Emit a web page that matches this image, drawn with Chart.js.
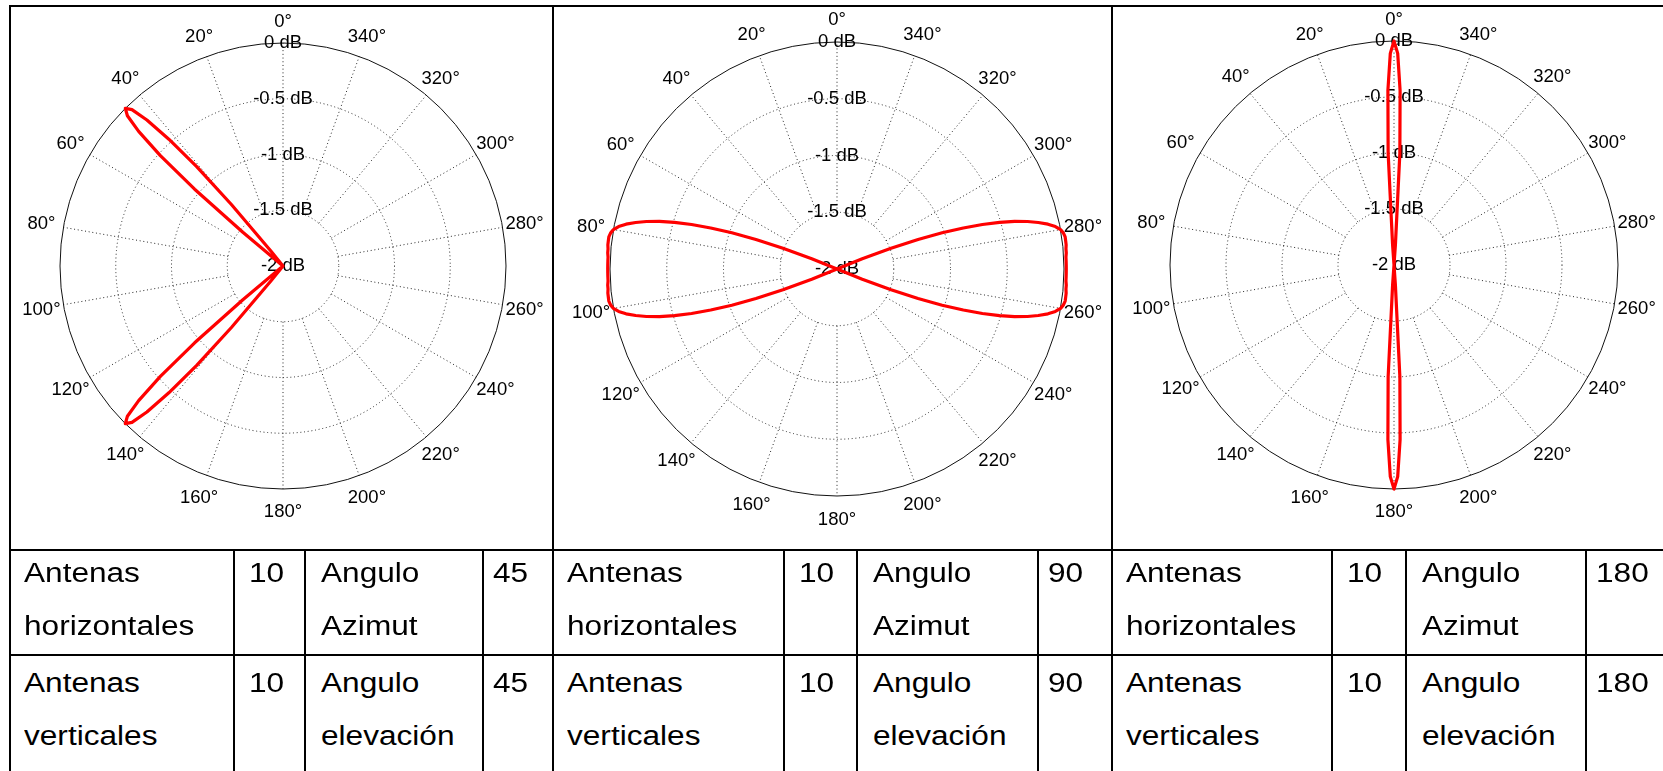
<!DOCTYPE html>
<html>
<head>
<meta charset="utf-8">
<script src="https://cdn.jsdelivr.net/npm/chart.js@4.4.1/dist/chart.umd.min.js"></script>
<style>
  html, body { margin: 0; padding: 0; background: #fff; }
  body { width: 1663px; height: 771px; position: relative; overflow: hidden; font-family: "Liberation Sans", Arial, sans-serif; }
  .ln { position: absolute; background: #000; }
  .cell { position: absolute; font-size: 27px; line-height: 53px; color: #000; white-space: nowrap; transform: scaleX(1.17); transform-origin: 0 0; }
  canvas { position: absolute; }
</style>
</head>
<body>
<canvas id="p1"></canvas>
<canvas id="p2"></canvas>
<canvas id="p3"></canvas>
<script>
// gain in dB, read per degree (angles counted counter-clockwise from the top)
const FLOOR_DB = -2;

// panel 1: steered to 45 deg
const p1LobeAFrom = 38;
const p1LobeA = [-2, -1.83, -1.28, -0.82, -0.47, -0.21, -0.05, 0, -0.06, -0.23, -0.52, -0.95, -1.53, -2];
const p1LobeBFrom = 129;
const p1LobeB = [-2, -1.53, -0.95, -0.52, -0.23, -0.06, 0, -0.05, -0.21, -0.47, -0.82, -1.28, -1.83, -2];

// panel 2: steered to 90 deg
const p2LobeAFrom = 67;
const p2LobeA = [-2, -1.76, -1.49, -1.24, -1.02, -0.83, -0.66, -0.51, -0.38, -0.27, -0.18, -0.1, -0.04, 0, 0.02, 0.03, 0.03, 0.03, 0.025, 0.025, 0.02, 0.02, 0.02,
  0.02, 0.02, 0.02, 0.02, 0.025, 0.025, 0.03, 0.03, 0.03, 0.02, 0, -0.04, -0.1, -0.18, -0.27, -0.38, -0.51, -0.66, -0.83, -1.02, -1.24, -1.49, -1.76, -2];
const p2LobeBFrom = 247;
const p2LobeB = [-2, -1.76, -1.49, -1.24, -1.02, -0.83, -0.66, -0.51, -0.38, -0.27, -0.18, -0.1, -0.04, 0, 0.02, 0.03, 0.03, 0.03, 0.025, 0.025, 0.02, 0.02, 0.02,
  0.02, 0.02, 0.02, 0.02, 0.025, 0.025, 0.03, 0.03, 0.03, 0.02, 0, -0.04, -0.1, -0.18, -0.27, -0.38, -0.51, -0.66, -0.83, -1.02, -1.24, -1.49, -1.76, -2];

// panel 3: steered to 180 deg
const p3LobeAFrom = 355;
const p3LobeA = [-2, -1.82, -1.0, -0.44, -0.11, 0, -0.11, -0.44, -1.0, -1.82, -2];
const p3LobeBFrom = 175;
const p3LobeB = [-2, -1.82, -1.0, -0.44, -0.11, 0, -0.11, -0.44, -1.0, -1.82, -2];

const ringTicks = [-2, -1.5, -1, -0.5, 0];
const spokeAngles = [0, 20, 40, 60, 80, 100, 120, 140, 160, 180, 200, 220, 240, 260, 280, 300, 320, 340];

// table texts
const antennaRows = [["Antenas", "horizontales"], ["Antenas", "verticales"]];
const angleRows = [["Angulo", "Azimut"], ["Angulo", "elevación"]];
const antennaCounts = [10, 10, 10];
const steeringAngles = [45, 90, 180];

// category axis: one slot per degree, clockwise in Chart.js, so counter-clockwise labels
const degrees = Array.from({ length: 360 }, (_, i) => (360 - i) % 360);

function buildSeries(lobes) {
  const out = degrees.map(() => FLOOR_DB);
  lobes.forEach(([from, values]) => {
    values.forEach((v, k) => {
      const a = (from + k) % 360;
      out[(360 - a) % 360] = v;
    });
  });
  return out;
}

const FONT = "'Liberation Sans', Arial, sans-serif";
const TICK_SIZE = 18.5;
const PAD = 50;
// radial scale keeps room for a tick backdrop: (font size + 2 * 2px) / 2 on each side
const TICK_PAD = (TICK_SIZE + 4) / 2;

const polarFrame = {
  id: "polarFrame",
  beforeDraw(chart) {
    const r = chart.scales.r;
    const ctx = chart.ctx;
    ctx.save();
    ctx.lineWidth = 1;
    ctx.strokeStyle = "#262626";
    ctx.setLineDash([1, 2.7]);
    ringTicks.slice(1, -1).forEach((v) => {
      ctx.beginPath();
      ctx.arc(r.xCenter, r.yCenter, r.getDistanceFromCenterForValue(v), 0, Math.PI * 2);
      ctx.stroke();
    });
    spokeAngles.forEach((a) => {
      const i = (360 - a) % 360;
      const p0 = r.getPointPositionForValue(i, ringTicks[1]);
      const p1 = r.getPointPositionForValue(i, ringTicks[ringTicks.length - 1]);
      ctx.beginPath();
      ctx.moveTo(p0.x, p0.y);
      ctx.lineTo(p1.x, p1.y);
      ctx.stroke();
    });
    ctx.setLineDash([]);
    ctx.strokeStyle = "#111";
    ctx.beginPath();
    ctx.arc(r.xCenter, r.yCenter, r.getDistanceFromCenterForValue(0), 0, Math.PI * 2);
    ctx.stroke();

    ctx.fillStyle = "#000";
    ctx.font = `${TICK_SIZE}px ${FONT}`;
    ctx.textAlign = "center";
    ctx.textBaseline = "middle";
    spokeAngles.forEach((a) => {
      const i = (360 - a) % 360;
      const p = r.getPointPosition(i, r.drawingArea * 1.1);
      ctx.fillText(`${a}°`, p.x, p.y + 1);
    });
    ctx.restore();
  },
};

function makePolar(id, cx, cy, radius, series) {
  const el = document.getElementById(id);
  const size = 2 * radius + 2 * PAD;
  el.width = size;
  el.height = size;
  el.style.left = `${cx - radius - PAD}px`;
  el.style.top = `${cy - radius - PAD}px`;
  return new Chart(el, {
    type: "radar",
    data: {
      labels: degrees,
      datasets: [{
        data: series,
        borderColor: "#ff0000",
        borderWidth: 3.2,
        borderJoinStyle: "round",
        pointRadius: 0,
        fill: false,
        tension: 0,
        clip: false,
      }],
    },
    options: {
      responsive: false,
      animation: false,
      devicePixelRatio: 1,
      layout: { padding: PAD - TICK_PAD },
      plugins: { legend: { display: false }, tooltip: { enabled: false } },
      scales: {
        r: {
          min: FLOOR_DB,
          max: 0,
          grid: { display: false },
          angleLines: { display: false },
          pointLabels: { display: false },
          ticks: {
            stepSize: 0.5,
            showLabelBackdrop: false,
            color: "#000",
            font: { family: FONT, size: TICK_SIZE },
            callback: (v) => `${v} dB`,
          },
        },
      },
    },
    plugins: [polarFrame],
  });
}

makePolar("p1", 283, 266, 223, buildSeries([[p1LobeAFrom, p1LobeA], [p1LobeBFrom, p1LobeB]]));
makePolar("p2", 837, 269, 227, buildSeries([[p2LobeAFrom, p2LobeA], [p2LobeBFrom, p2LobeB]]));
makePolar("p3", 1394, 265, 224, buildSeries([[p3LobeAFrom, p3LobeA], [p3LobeBFrom, p3LobeB]]));

// table frame
const panelLines = [10, 553, 1112];
const cellLines = [[10, 233.5, 304.5, 482.5], [553, 783.5, 857, 1037.5], [1112, 1332, 1405.5, 1585.5]];
const rowTops = [550, 654.5];
const rowTextTops = [547, 657];
const cellInset = [14, 15, 16, 10];

function addLine(x, y, w, h) {
  const d = document.createElement("div");
  d.className = "ln";
  d.style.left = `${x}px`;
  d.style.top = `${y}px`;
  d.style.width = `${w}px`;
  d.style.height = `${h}px`;
  document.body.appendChild(d);
}

addLine(9, 5, 1663, 2);
panelLines.forEach((x) => addLine(x - 1, 5, 2, 771));
rowTops.forEach((y) => addLine(9, y - 1, 1663, 2));
cellLines.forEach((cols) => cols.slice(1).forEach((x) => addLine(x - 1, rowTops[0] - 1, 2, 771)));

function addCell(x, y, lines) {
  const d = document.createElement("div");
  d.className = "cell";
  d.style.left = `${x}px`;
  d.style.top = `${y}px`;
  d.innerHTML = lines.join("<br>");
  document.body.appendChild(d);
}

cellLines.forEach((cols, p) => {
  [0, 1].forEach((row) => {
    const y = rowTextTops[row];
    addCell(cols[0] + cellInset[0], y, antennaRows[row]);
    addCell(cols[1] + cellInset[1], y, [String(antennaCounts[p])]);
    addCell(cols[2] + cellInset[2], y, angleRows[row]);
    addCell(cols[3] + cellInset[3], y, [String(steeringAngles[p])]);
  });
});
</script>
</body>
</html>
